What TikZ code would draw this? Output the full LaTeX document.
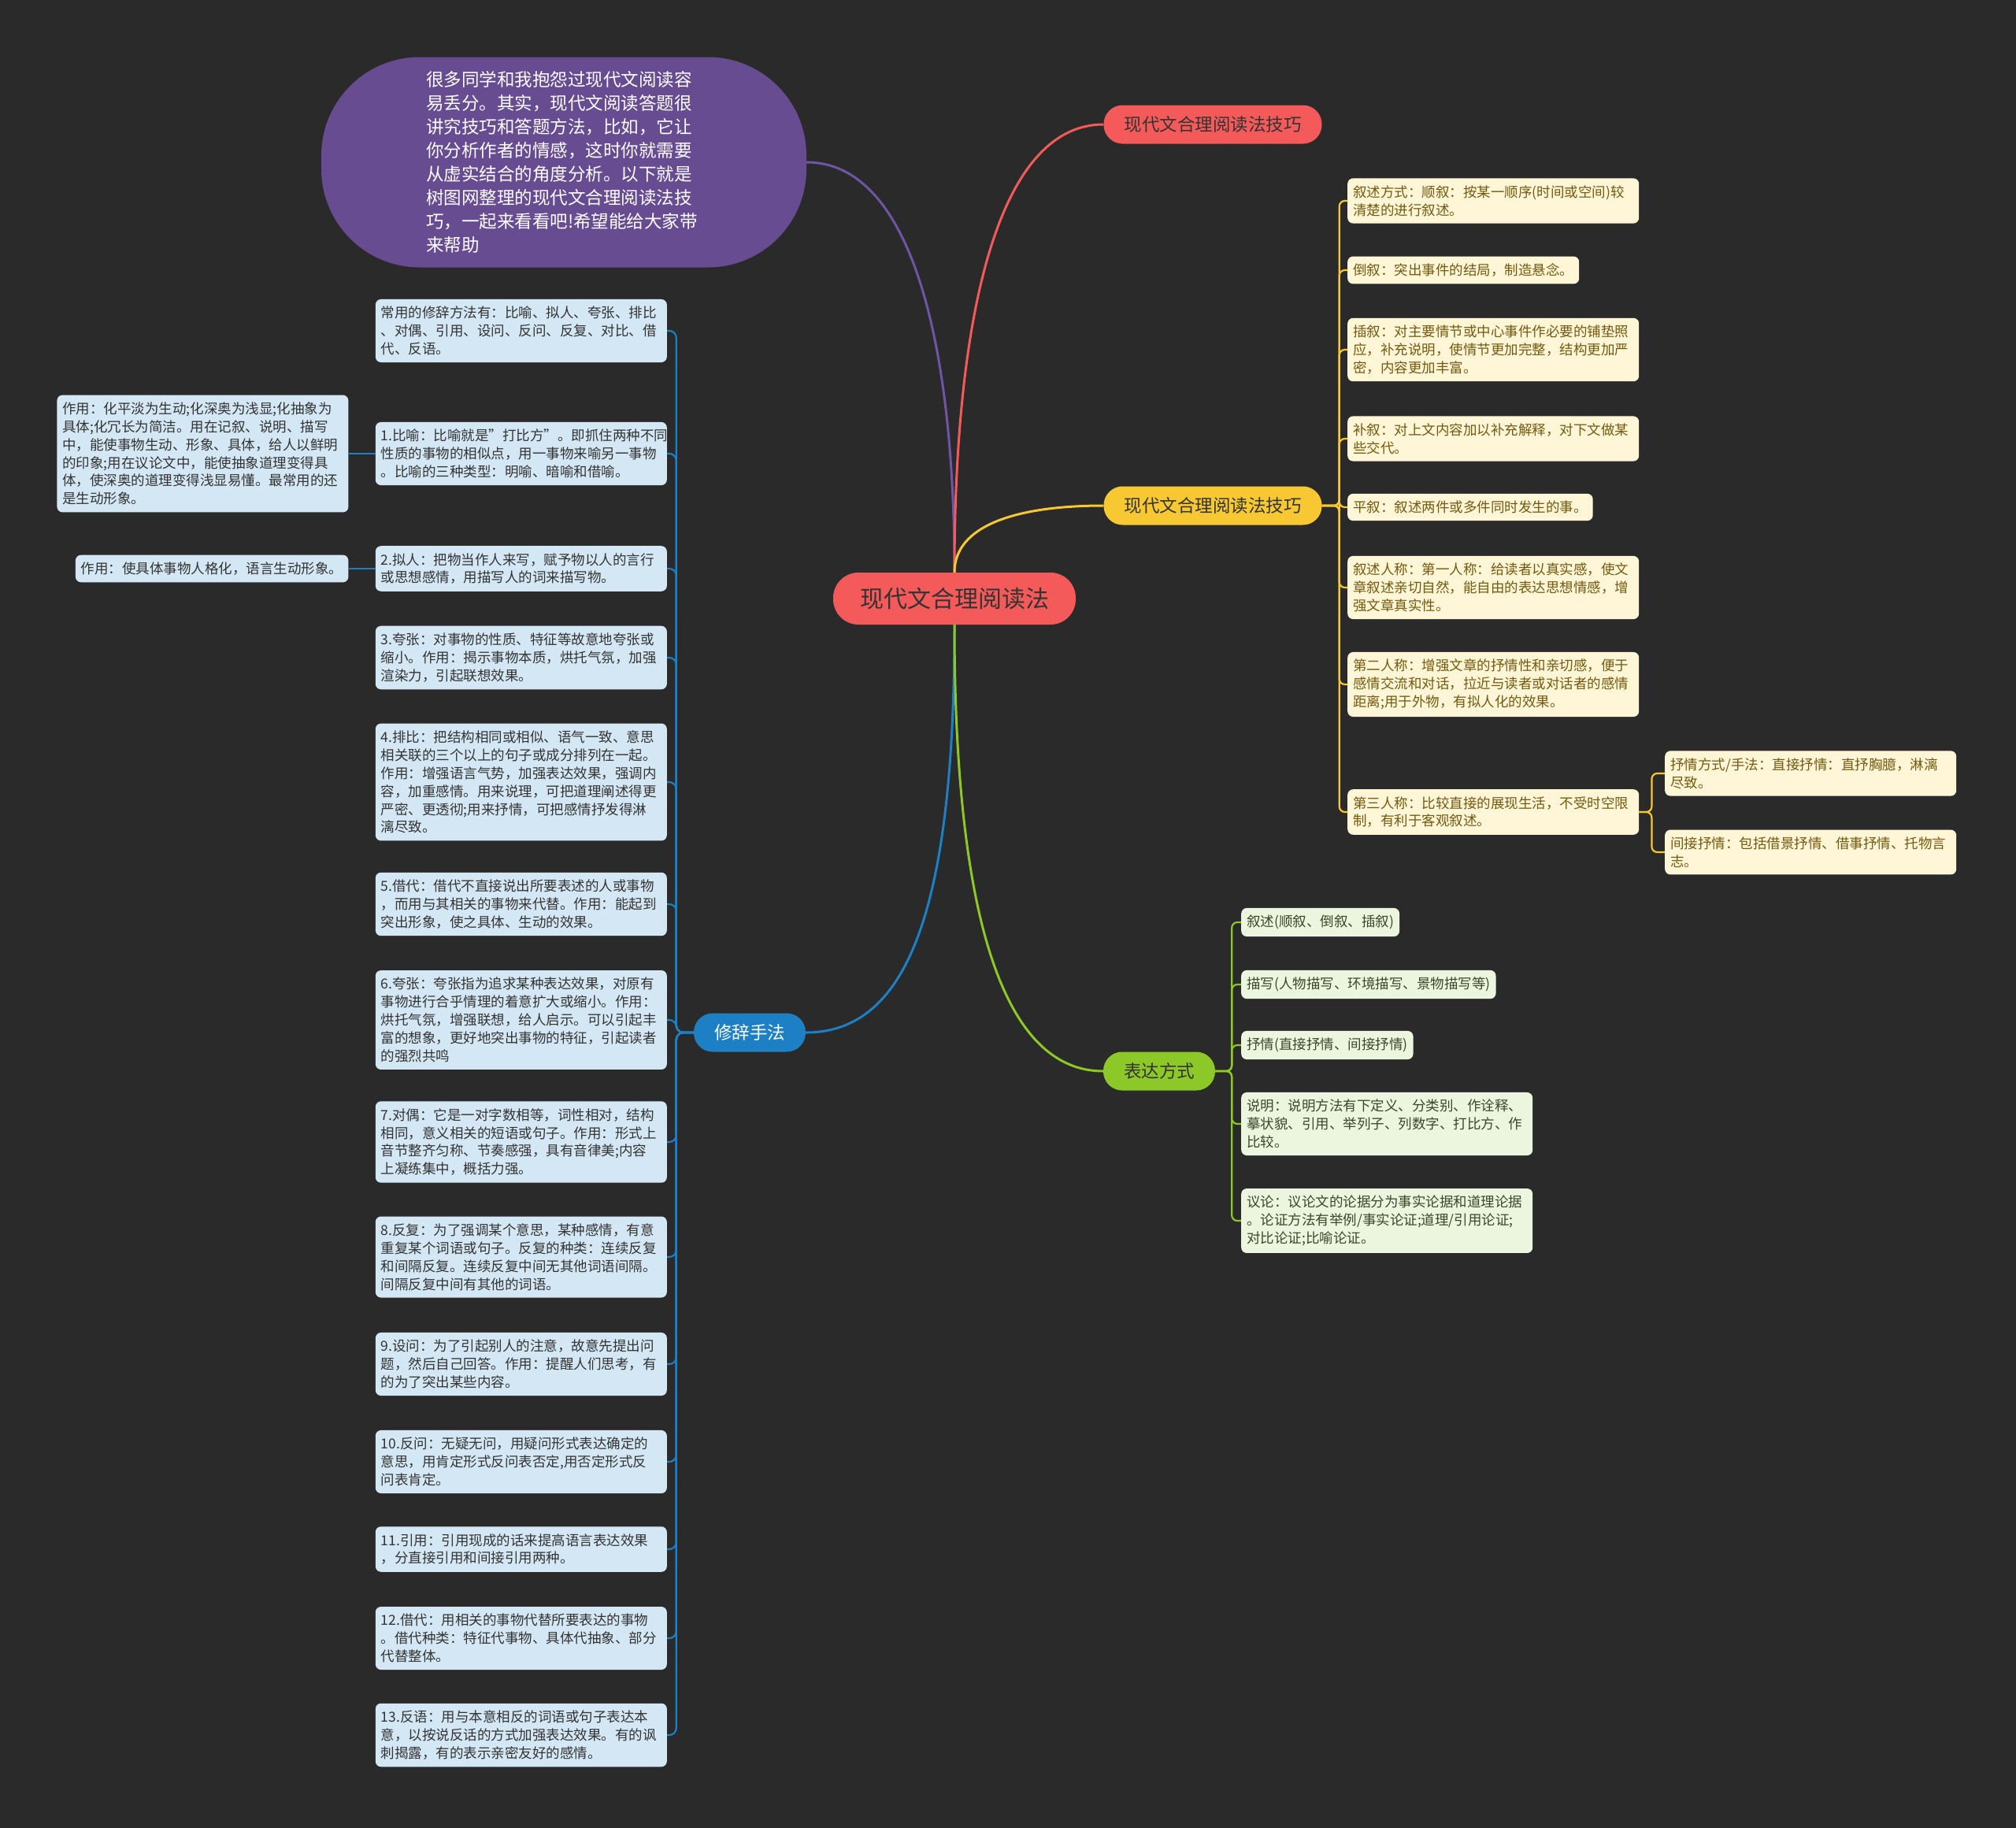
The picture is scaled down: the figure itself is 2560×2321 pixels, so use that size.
\documentclass[tikz,border=0pt]{standalone}
\usepackage{fontspec}
\setmainfont{Noto Sans CJK SC}
\definecolor{bgdark}{RGB}{42,42,42}
\definecolor{hubred}{RGB}{245,90,90}
\definecolor{hubyellow}{RGB}{248,200,50}
\definecolor{hubgreen}{RGB}{140,200,40}
\definecolor{hubblue}{RGB}{30,128,196}
\definecolor{introviolet}{RGB}{104,76,146}
\definecolor{lnviolet}{RGB}{110,85,165}
\definecolor{leafblue}{RGB}{212,231,244}
\definecolor{leafcream}{RGB}{255,245,215}
\definecolor{leafgreen}{RGB}{236,245,222}
\definecolor{inkdark}{RGB}{51,51,51}
\definecolor{inkbrown}{RGB}{115,90,15}
\definecolor{inkgreen}{RGB}{60,70,40}
\usetikzlibrary{positioning}

\begin{document}
\begin{tikzpicture}[x=1pt, y=1pt,
  hub/.style={rounded corners=24pt, minimum height=49pt, inner xsep=26pt, text=inkdark, font=\fontsize{22.5}{27}\selectfont},
  leaf/.style={rounded corners=7pt, inner xsep=7pt, inner ysep=9pt, align=left, font=\fontsize{17.5}{22.9}\selectfont},
  wide/.style={leaf, text width=356pt},
  bluebox/.style={fill=leafblue, text=inkdark},
  creambox/.style={fill=leafcream, text=inkbrown},
  greenbox/.style={fill=leafgreen, text=inkgreen},
  mainlink/.style={line width=3pt},
  sublink/.style={line width=2.2pt, rounded corners=9pt}]
  \fill[bgdark] (0,0) rectangle (2560,-2321);
  \useasboundingbox (0,0) rectangle (2560,-2321);

  \node[fill=hubred, rounded corners=32pt, minimum height=66pt, inner xsep=34pt, text=inkdark, font=\fontsize{30}{36}\selectfont] (root) at (1212,-760) {现代文合理阅读法};
  \node[fill=introviolet, rounded corners=125pt, minimum width=616pt, minimum height=267pt, text width=350pt, align=left, text=white, font=\fontsize{22.5}{30}\selectfont] (intro) at (716,-206) {很多同学和我抱怨过现代文阅读容\\易丢分。其实，现代文阅读答题很\\讲究技巧和答题方法，比如，它让\\你分析作者的情感，这时你就需要\\从虚实结合的角度分析。以下就是\\树图网整理的现代文合理阅读法技\\巧，一起来看看吧!希望能给大家带\\来帮助};
  \node[hub, fill=hubred] (tipsA) at (1540,-158) {现代文合理阅读法技巧};
  \node[hub, fill=hubyellow] (tipsB) at (1540,-642) {现代文合理阅读法技巧};
  \node[hub, fill=hubgreen] (biaoda) at (1472,-1360) {表达方式};
  \node[hub, fill=hubblue, text=white] (xiuci) at (952,-1311) {修辞手法};

  \draw[mainlink, lnviolet] (intro.east) .. controls +(130,0) and +(0,300) .. (root.north);
  \draw[mainlink, hubred] (root.north) .. controls +(0,340) and +(-130,0) .. (tipsA.west);
  \draw[mainlink, hubyellow] (root.north) .. controls +(0,60) and +(-110,0) .. (tipsB.west);
  \draw[mainlink, hubblue] (root.south) .. controls +(0,-360) and +(130,0) .. (xiuci.east);
  \draw[mainlink, hubgreen] (root.south) .. controls +(0,-390) and +(-120,0) .. (biaoda.west);

  % 修辞手法
  \node[wide, bluebox, anchor=east] (x0) at (847,-420) {常用的修辞方法有：比喻、拟人、夸张、排比\\、对偶、引用、设问、反问、反复、对比、借\\代、反语。};
  \node[wide, bluebox, anchor=east] (x1) at (847,-576) {1.比喻：比喻就是"打比方"。即抓住两种不同\\性质的事物的相似点，用一事物来喻另一事物\\。比喻的三种类型：明喻、暗喻和借喻。};
  \node[wide, bluebox, anchor=east] (x2) at (847,-722) {2.拟人：把物当作人来写，赋予物以人的言行\\或思想感情，用描写人的词来描写物。};
  \node[wide, bluebox, anchor=east] (x3) at (847,-835) {3.夸张：对事物的性质、特征等故意地夸张或\\缩小。作用：揭示事物本质，烘托气氛，加强\\渲染力，引起联想效果。};
  \node[wide, bluebox, anchor=east] (x4) at (847,-993) {4.排比：把结构相同或相似、语气一致、意思\\相关联的三个以上的句子或成分排列在一起。\\作用：增强语言气势，加强表达效果，强调内\\容，加重感情。用来说理，可把道理阐述得更\\严密、更透彻;用来抒情，可把感情抒发得淋\\漓尽致。};
  \node[wide, bluebox, anchor=east] (x5) at (847,-1148) {5.借代：借代不直接说出所要表述的人或事物\\，而用与其相关的事物来代替。作用：能起到\\突出形象，使之具体、生动的效果。};
  \node[wide, bluebox, anchor=east] (x6) at (847,-1295) {6.夸张：夸张指为追求某种表达效果，对原有\\事物进行合乎情理的着意扩大或缩小。作用：\\烘托气氛，增强联想，给人启示。可以引起丰\\富的想象，更好地突出事物的特征，引起读者\\的强烈共鸣};
  \node[wide, bluebox, anchor=east] (x7) at (847,-1450) {7.对偶：它是一对字数相等，词性相对，结构\\相同，意义相关的短语或句子。作用：形式上\\音节整齐匀称、节奏感强，具有音律美;内容\\上凝练集中，概括力强。};
  \node[wide, bluebox, anchor=east] (x8) at (847,-1596) {8.反复：为了强调某个意思，某种感情，有意\\重复某个词语或句子。反复的种类：连续反复\\和间隔反复。连续反复中间无其他词语间隔。\\间隔反复中间有其他的词语。};
  \node[wide, bluebox, anchor=east] (x9) at (847,-1732) {9.设问：为了引起别人的注意，故意先提出问\\题，然后自己回答。作用：提醒人们思考，有\\的为了突出某些内容。};
  \node[wide, bluebox, anchor=east] (x10) at (847,-1856) {10.反问：无疑无问，用疑问形式表达确定的\\意思，用肯定形式反问表否定,用否定形式反\\问表肯定。};
  \node[wide, bluebox, anchor=east] (x11) at (847,-1967) {11.引用：引用现成的话来提高语言表达效果\\，分直接引用和间接引用两种。};
  \node[wide, bluebox, anchor=east] (x12) at (847,-2080) {12.借代：用相关的事物代替所要表达的事物\\。借代种类：特征代事物、具体代抽象、部分\\代替整体。};
  \node[wide, bluebox, anchor=east] (x13) at (847,-2203) {13.反语：用与本意相反的词语或句子表达本\\意，以按说反话的方式加强表达效果。有的讽\\刺揭露，有的表示亲密友好的感情。};
  \node[wide, bluebox, left=34pt of x1] (zy1) {作用：化平淡为生动;化深奥为浅显;化抽象为\\具体;化冗长为简洁。用在记叙、说明、描写\\中，能使事物生动、形象、具体，给人以鲜明\\的印象;用在议论文中，能使抽象道理变得具\\体，使深奥的道理变得浅显易懂。最常用的还\\是生动形象。};
  \node[leaf, bluebox, left=34pt of x2] (zy2) {作用：使具体事物人格化，语言生动形象。};

  \foreach \n in {x0,x1,x2,x3,x4,x5,x6,x7,x8,x9,x10,x11,x12,x13}
    \draw[sublink, hubblue] (xiuci.west) -- ++(-22,0) |- (\n.east);
  \draw[sublink, hubblue] (x1.west) -- (zy1.east);
  \draw[sublink, hubblue] (x2.west) -- (zy2.east);

  % 现代文合理阅读法技巧
  \node[wide, creambox, anchor=west] (y1) at (1711,-255) {叙述方式：顺叙：按某一顺序(时间或空间)较\\清楚的进行叙述。};
  \node[leaf, creambox, anchor=west] (y2) at (1711,-343) {倒叙：突出事件的结局，制造悬念。};
  \node[wide, creambox, anchor=west] (y3) at (1711,-444) {插叙：对主要情节或中心事件作必要的铺垫照\\应，补充说明，使情节更加完整，结构更加严\\密，内容更加丰富。};
  \node[wide, creambox, anchor=west] (y4) at (1711,-557) {补叙：对上文内容加以补充解释，对下文做某\\些交代。};
  \node[leaf, creambox, anchor=west] (y5) at (1711,-644) {平叙：叙述两件或多件同时发生的事。};
  \node[wide, creambox, anchor=west] (y6) at (1711,-746) {叙述人称：第一人称：给读者以真实感，使文\\章叙述亲切自然，能自由的表达思想情感，增\\强文章真实性。};
  \node[wide, creambox, anchor=west] (y7) at (1711,-869) {第二人称：增强文章的抒情性和亲切感，便于\\感情交流和对话，拉近与读者或对话者的感情\\距离;用于外物，有拟人化的效果。};
  \node[wide, creambox, anchor=west] (y8) at (1711,-1031) {第三人称：比较直接的展现生活，不受时空限\\制，有利于客观叙述。};
  \node[wide, creambox, anchor=west] (sq1) at (2114,-982) {抒情方式/手法：直接抒情：直抒胸臆，淋漓\\尽致。};
  \node[wide, creambox, anchor=west] (sq2) at (2114,-1082) {间接抒情：包括借景抒情、借事抒情、托物言\\志。};

  \foreach \n in {y1,y2,y3,y4,y5,y6,y7,y8}
    \draw[sublink, hubyellow, rounded corners=7pt] (tipsB.east) -- ++(22,0) |- (\n.west);
  \foreach \n in {sq1,sq2}
    \draw[sublink, hubyellow, rounded corners=7pt] (y8.east) -- ++(16,0) |- (\n.west);

  % 表达方式
  \node[leaf, greenbox, anchor=west] (g1) at (1576,-1171) {叙述(顺叙、倒叙、插叙)};
  \node[leaf, greenbox, anchor=west] (g2) at (1576,-1250) {描写(人物描写、环境描写、景物描写等)};
  \node[leaf, greenbox, anchor=west] (g3) at (1576,-1327) {抒情(直接抒情、间接抒情)};
  \node[wide, greenbox, anchor=west] (g4) at (1576,-1427) {说明：说明方法有下定义、分类别、作诠释、\\摹状貌、引用、举列子、列数字、打比方、作\\比较。};
  \node[wide, greenbox, anchor=west] (g5) at (1576,-1550) {议论：议论文的论据分为事实论据和道理论据\\。论证方法有举例/事实论证;道理/引用论证;\\对比论证;比喻论证。};

  \foreach \n in {g1,g2,g3,g4,g5}
    \draw[sublink, hubgreen, rounded corners=7pt] (biaoda.east) -- ++(21,0) |- (\n.west);
\end{tikzpicture}
\end{document}
